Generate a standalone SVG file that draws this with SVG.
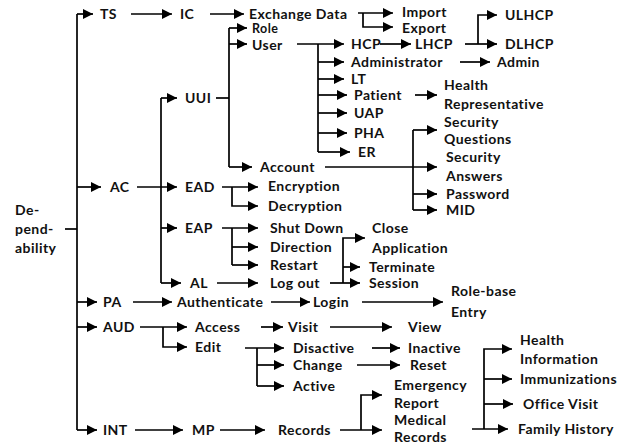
<svg xmlns="http://www.w3.org/2000/svg" width="630" height="445" viewBox="0 0 630 445">
<defs>
<marker id="ah" markerUnits="userSpaceOnUse" markerWidth="11" markerHeight="11" refX="10" refY="5" orient="auto"><path d="M0,0 L10,5 L0,10 z" fill="#000"/></marker>
<style>
text{font-family:Lato,"Liberation Sans",sans-serif;font-weight:bold;font-size:14px;letter-spacing:0.45px;fill:#111}
text.s{font-size:12.5px}
.c path{fill:none;stroke:#000;stroke-width:1.7}
.c path.a{marker-end:url(#ah)}
</style>
</defs>
<rect width="630" height="445" fill="#fff"/>
<g class="c" id="connectors">
<path d="M65,229 H77"/>
<path d="M77,14 V430"/>
<path class="a" d="M77,14 H93"/>
<path class="a" d="M77,187 H101"/>
<path class="a" d="M77,302 H97"/>
<path class="a" d="M77,327 H97"/>
<path class="a" d="M77,430 H97"/>
<path class="a" d="M131,14 H172"/>
<path class="a" d="M210,14 H244"/>
<path class="a" d="M358,13 H393"/>
<path class="a" d="M363,13 V27 H393"/>
<path d="M161,98 V283"/>
<path class="a" d="M137,187 H177"/>
<path class="a" d="M161,98 H177"/>
<path class="a" d="M161,228 H177"/>
<path class="a" d="M161,283 H181"/>
<path d="M216,98 H229"/>
<path d="M229,28 V167"/>
<path class="a" d="M229,28 H247"/>
<path class="a" d="M229,44 H247"/>
<path class="a" d="M229,167 H252"/>
<path d="M318,44 V152"/>
<path class="a" d="M297,44 H344"/>
<path class="a" d="M318,62 H344"/>
<path class="a" d="M318,79 H344"/>
<path class="a" d="M318,95 H347"/>
<path class="a" d="M318,113 H347"/>
<path class="a" d="M318,133 H347"/>
<path class="a" d="M318,152 H350"/>
<path class="a" d="M380,44 H411"/>
<path class="a" d="M465,44 H497"/>
<path class="a" d="M478,44 V15 H497"/>
<path class="a" d="M460,62 H490"/>
<path class="a" d="M415,95 H437"/>
<path class="a" d="M325,167 H437"/>
<path d="M413,130 V210"/>
<path class="a" d="M413,130 H437"/>
<path class="a" d="M413,194 H437"/>
<path class="a" d="M413,210 H437"/>
<path class="a" d="M222,187 H258"/>
<path class="a" d="M232,187 V206 H258"/>
<path class="a" d="M222,228 H258"/>
<path d="M232,228 V265"/>
<path class="a" d="M232,247 H258"/>
<path class="a" d="M232,265 H258"/>
<path class="a" d="M217,283 H258"/>
<path class="a" d="M330,283 H360"/>
<path class="a" d="M343,283 V238 H365"/>
<path class="a" d="M343,267 H360"/>
<path class="a" d="M133,302 H172"/>
<path class="a" d="M271,302 H310"/>
<path class="a" d="M362,302 H443"/>
<path class="a" d="M140,327 H187"/>
<path class="a" d="M163,327 V347 H187"/>
<path class="a" d="M261,327 H283"/>
<path class="a" d="M330,327 H392"/>
<path class="a" d="M245,348 H284"/>
<path d="M257,348 V386"/>
<path class="a" d="M257,365 H284"/>
<path class="a" d="M257,386 H284"/>
<path class="a" d="M372,348 H400"/>
<path class="a" d="M357,365 H400"/>
<path class="a" d="M135,430 H183"/>
<path class="a" d="M220,430 H265"/>
<path class="a" d="M340,430 H382"/>
<path class="a" d="M361,430 V395 H382"/>
<path class="a" d="M472,429 H508"/>
<path class="a" d="M484,429 V349 H512"/>
<path class="a" d="M484,379 H512"/>
<path class="a" d="M484,404 H513"/>
</g>
<g id="n-dependability"><text x="15" y="215">De-</text><text x="15" y="234">pend-</text><text x="15" y="253">ability</text></g>
<g id="n-ts"><text x="100" y="19">TS</text></g>
<g id="n-ic"><text x="180" y="19">IC</text></g>
<g id="n-exchange"><text x="249" y="18.5">Exchange Data</text></g>
<g id="n-import"><text x="402" y="17">Import</text></g>
<g id="n-export"><text x="402" y="33">Export</text></g>
<g id="n-ulhcp"><text x="505" y="20">ULHCP</text></g>
<g id="n-dlhcp"><text x="505" y="49">DLHCP</text></g>
<g id="n-role"><text class="s" x="252" y="33">Role</text></g>
<g id="n-user"><text x="252" y="49.5">User</text></g>
<g id="n-hcp"><text x="351" y="49">HCP</text></g>
<g id="n-lhcp"><text x="415" y="49">LHCP</text></g>
<g id="n-administrator"><text x="351" y="67">Administrator</text></g>
<g id="n-admin"><text x="497" y="67">Admin</text></g>
<g id="n-lt"><text x="351" y="84">LT</text></g>
<g id="n-patient"><text x="354" y="100">Patient</text></g>
<g id="n-healthrep"><text x="444" y="90">Health</text><text x="444" y="109">Representative</text></g>
<g id="n-uap"><text x="354" y="118">UAP</text></g>
<g id="n-secq"><text x="444" y="127">Security</text><text x="444" y="144">Questions</text></g>
<g id="n-pha"><text x="354" y="138">PHA</text></g>
<g id="n-er"><text x="358" y="157">ER</text></g>
<g id="n-account"><text x="260" y="172">Account</text></g>
<g id="n-seca"><text x="446" y="162">Security</text><text x="446" y="181">Answers</text></g>
<g id="n-password"><text x="446" y="199">Password</text></g>
<g id="n-mid"><text x="446" y="215">MID</text></g>
<g id="n-uui"><text x="185" y="103">UUI</text></g>
<g id="n-ac"><text x="110" y="192">AC</text></g>
<g id="n-ead"><text x="185" y="192">EAD</text></g>
<g id="n-encryption"><text x="268" y="191">Encryption</text></g>
<g id="n-decryption"><text x="268" y="211">Decryption</text></g>
<g id="n-eap"><text x="185" y="233">EAP</text></g>
<g id="n-shutdown"><text x="270" y="233">Shut Down</text></g>
<g id="n-direction"><text x="270" y="252">Direction</text></g>
<g id="n-restart"><text x="270" y="270">Restart</text></g>
<g id="n-al"><text x="190" y="288">AL</text></g>
<g id="n-logout"><text x="270" y="288">Log out</text></g>
<g id="n-closeapp"><text x="372" y="233">Close</text><text x="372" y="253">Application</text></g>
<g id="n-terminate"><text x="369" y="272">Terminate</text><text x="369" y="288">Session</text></g>
<g id="n-pa"><text x="103" y="307">PA</text></g>
<g id="n-authenticate"><text x="177" y="307">Authenticate</text></g>
<g id="n-login"><text x="313" y="307">Login</text></g>
<g id="n-rolebase"><text x="451" y="296">Role-base</text><text x="451" y="317">Entry</text></g>
<g id="n-aud"><text x="103" y="332">AUD</text></g>
<g id="n-access"><text x="195" y="332">Access</text></g>
<g id="n-visit"><text x="288" y="332">Visit</text></g>
<g id="n-view"><text x="408" y="332">View</text></g>
<g id="n-edit"><text x="195" y="352">Edit</text></g>
<g id="n-disactive"><text x="293" y="353">Disactive</text></g>
<g id="n-inactive"><text x="408" y="353">Inactive</text></g>
<g id="n-change"><text x="293" y="370">Change</text></g>
<g id="n-reset"><text x="410" y="370">Reset</text></g>
<g id="n-active"><text x="293" y="391">Active</text></g>
<g id="n-int"><text x="103" y="435">INT</text></g>
<g id="n-mp"><text x="192" y="435">MP</text></g>
<g id="n-records"><text x="278" y="435">Records</text></g>
<g id="n-emergency"><text x="394" y="390">Emergency</text><text x="394" y="408">Report</text></g>
<g id="n-medical"><text x="394" y="425">Medical</text><text x="394" y="442">Records</text></g>
<g id="n-healthinfo"><text x="520" y="345">Health</text><text x="520" y="364">Information</text></g>
<g id="n-immun"><text x="520" y="384">Immunizations</text></g>
<g id="n-office"><text x="523" y="409">Office Visit</text></g>
<g id="n-family"><text x="518" y="434">Family History</text></g>
</svg>
